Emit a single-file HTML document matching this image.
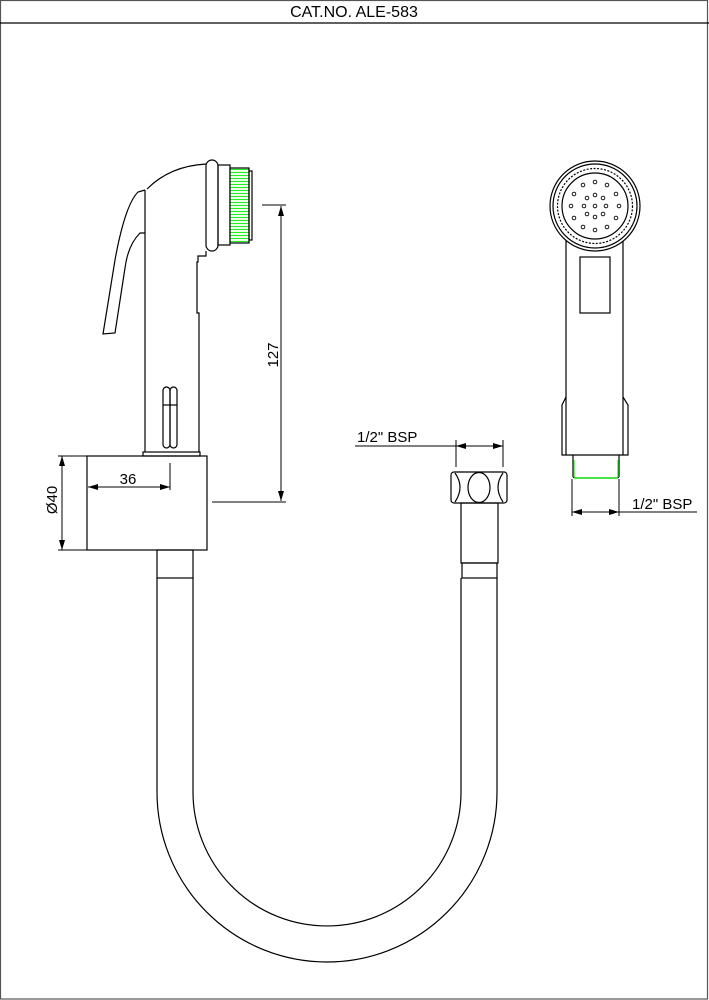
<!DOCTYPE html>
<html><head><meta charset="utf-8"><style>
html,body{margin:0;padding:0;background:#fff}
svg{display:block}
text{font-family:"Liberation Sans",Arial,sans-serif;fill:#000}
</style></head><body>
<svg width="709" height="1000" viewBox="0 0 709 1000" xmlns="http://www.w3.org/2000/svg">
<defs>
<marker id="a" viewBox="0 0 10 6" refX="10" refY="3" markerWidth="10" markerHeight="6" orient="auto-start-reverse" markerUnits="userSpaceOnUse"><path d="M0,0 L10,3 L0,6 Z" fill="#000"/></marker>
<pattern id="g" width="4" height="3" patternUnits="userSpaceOnUse"><rect width="4" height="3" fill="#fff"/><line x1="0" y1="1.5" x2="4" y2="1.5" stroke="#2e2" stroke-width="1.2"/></pattern>
</defs>
<g fill="none" stroke="#000" stroke-width="1.2">
<rect x="0.5" y="0.5" width="707" height="998.5" stroke="#555"/>
<line x1="0" y1="23" x2="709" y2="23"/>
</g>
<text x="354" y="17" font-size="16" text-anchor="middle">CAT.NO. ALE-583</text>

<g fill="none" stroke="#000" stroke-width="1.2">
<path d="M147,189 Q170,166 206,164"/>
<path d="M145,190 L145,452 M145,190 L138,192 Q125,205 115,260 L103,334 L115,333 L125,268 Q128,245 140,233 L145,233"/>
<path d="M206,251 L206,256 L198,256 L198,262 L197,262 L197,313 L199,313 L199,452"/>
<rect x="206" y="160" width="12" height="91" rx="6"/>
<rect x="218" y="165" width="12" height="80"/>
<rect x="230" y="168" width="19" height="75" fill="url(#g)"/>
<rect x="249" y="171" width="3" height="69"/>
<rect x="163" y="387" width="7" height="61" rx="3.5"/>
<rect x="170" y="387" width="7" height="61" rx="3.5"/>
<line x1="163" y1="405" x2="177" y2="405"/>
<rect x="143" y="452" width="57" height="4"/>
<rect x="87" y="456" width="120" height="94"/>
<rect x="157" y="550" width="36" height="28"/>
<path d="M157,578 L157,792 A170,170 0 0 0 497,792 L497,578"/>
<path d="M193,578 L193,792 A134,134 0 0 0 461,792 L461,578"/>
<rect x="462" y="563" width="35" height="15"/>
<rect x="461" y="503" width="37" height="60"/>
<rect x="451" y="472" width="56" height="31" rx="3"/>
<ellipse cx="479" cy="487.5" rx="11" ry="15"/>
<path d="M455,473 Q465,487 455,502 M503,473 Q493,487 503,502"/>
<path d="M566,240 L566,397 L562,405 L562,455 L628,455 L628,405 L623,397 L623,240"/>
<line x1="566" y1="397" x2="566" y2="455"/><line x1="623" y1="397" x2="623" y2="455"/>
<circle cx="595" cy="206" r="45" fill="#fff"/>
<circle cx="595" cy="206" r="42"/>
<circle cx="595" cy="206" r="37.5" stroke-dasharray="2 1.5"/>
<circle cx="595" cy="206" r="33"/>
<rect x="580" y="257" width="30" height="56"/>
<path d="M573,455 L573,476 Q573,478 576,478 L616,478 Q619,478 619,476 L619,455"/>
<line x1="574" y1="478" x2="618" y2="478" stroke="#2e2" stroke-width="1.5"/>
<line x1="574" y1="460" x2="574" y2="477" stroke="#2e2"/><line x1="618" y1="460" x2="618" y2="477" stroke="#2e2"/>
</g>
<g fill="none" stroke="#000" stroke-width="0.9">
<circle cx="595" cy="206" r="1.8"/>
<circle cx="606" cy="206" r="1.8"/><circle cx="603" cy="214" r="1.8"/><circle cx="595" cy="217" r="1.8"/><circle cx="587" cy="214" r="1.8"/><circle cx="584" cy="206" r="1.8"/><circle cx="587" cy="198" r="1.8"/><circle cx="595" cy="195" r="1.8"/><circle cx="603" cy="198" r="1.8"/>
<circle cx="595" cy="182" r="1.8"/><circle cx="607" cy="185" r="1.8"/><circle cx="616" cy="194" r="1.8"/><circle cx="619" cy="206" r="1.8"/><circle cx="616" cy="218" r="1.8"/><circle cx="607" cy="227" r="1.8"/><circle cx="595" cy="230" r="1.8"/><circle cx="583" cy="227" r="1.8"/><circle cx="574" cy="218" r="1.8"/><circle cx="571" cy="206" r="1.8"/><circle cx="574" cy="194" r="1.8"/><circle cx="583" cy="185" r="1.8"/>
</g>
<g fill="none" stroke="#000" stroke-width="1">
<line x1="262" y1="205" x2="286" y2="205"/><line x1="212" y1="502" x2="286" y2="502"/>
<line x1="281" y1="206" x2="281" y2="501" marker-start="url(#a)" marker-end="url(#a)"/>
<line x1="170" y1="463" x2="170" y2="490"/>
<line x1="88" y1="487" x2="170" y2="487" marker-start="url(#a)" marker-end="url(#a)"/>
<line x1="58" y1="456" x2="87" y2="456"/><line x1="58" y1="550" x2="87" y2="550"/>
<line x1="62" y1="456" x2="62" y2="550" marker-start="url(#a)" marker-end="url(#a)"/>
<line x1="355" y1="446" x2="456" y2="446"/>
<line x1="456" y1="446" x2="503" y2="446" marker-start="url(#a)" marker-end="url(#a)"/>
<line x1="456" y1="440" x2="456" y2="467"/><line x1="503" y1="440" x2="503" y2="467"/>
<line x1="572" y1="479" x2="572" y2="516"/><line x1="619" y1="479" x2="619" y2="516"/>
<line x1="572" y1="512" x2="619" y2="512" marker-start="url(#a)" marker-end="url(#a)"/>
<line x1="619" y1="512" x2="697" y2="512"/>
</g>
<text x="128" y="484" font-size="15" text-anchor="middle">36</text>
<text x="0" y="0" font-size="15" text-anchor="middle" transform="translate(278,355) rotate(-90)">127</text>
<text x="0" y="0" font-size="15" text-anchor="middle" transform="translate(57,500) rotate(-90)">Ø40</text>
<text x="357" y="442" font-size="15">1/2" BSP</text>
<text x="632" y="509" font-size="15">1/2" BSP</text>
</svg>
</body></html>
